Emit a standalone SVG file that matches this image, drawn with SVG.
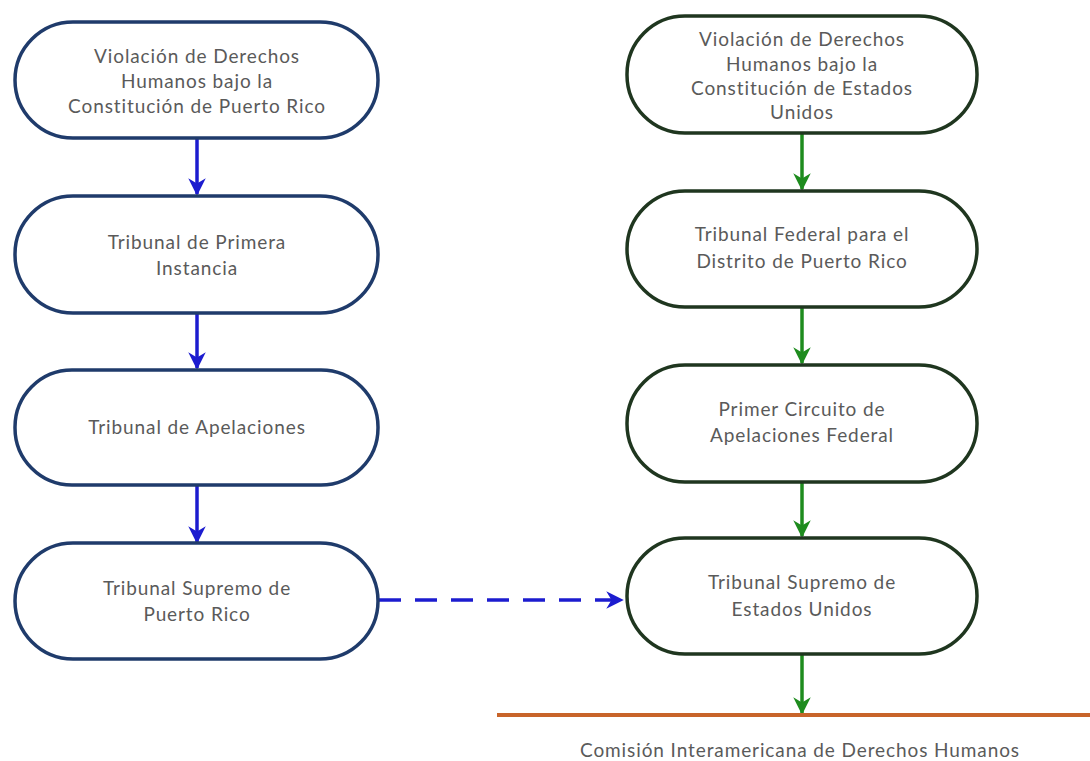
<svg xmlns="http://www.w3.org/2000/svg" width="1090" height="761" viewBox="0 0 1090 761">
<defs>
<style>
.nl{fill:#fff;stroke:#1f3b6b;stroke-width:3.5}
.nr{fill:#fff;stroke:#1f361f;stroke-width:3.5}
.t{font-family:Lato,"Noto Sans",sans-serif;font-size:19px;letter-spacing:0.9px;fill:#5a5a5a;text-anchor:middle}
.ab{stroke:#1c1ccf;stroke-width:3.5;fill:none}
.ag{stroke:#1e8c1e;stroke-width:3.5;fill:none}
</style>
<marker id="mb" viewBox="0 0 10 10" refX="9" refY="5" markerWidth="5" markerHeight="5" orient="auto" markerUnits="strokeWidth"><path d="M0,0 L10,5 L0,10 L3,5 Z" fill="#1c1ccf"/></marker>
<marker id="mg" viewBox="0 0 10 10" refX="9" refY="5" markerWidth="5" markerHeight="5" orient="auto" markerUnits="strokeWidth"><path d="M0,0 L10,5 L0,10 L3,5 Z" fill="#1e8c1e"/></marker>
</defs>
<rect width="1090" height="761" fill="#fff"/>
<g id="connectors">
<line class="ab" x1="197" y1="139" x2="197" y2="194" marker-end="url(#mb)"/>
<line class="ab" x1="197" y1="314" x2="197" y2="368" marker-end="url(#mb)"/>
<line class="ab" x1="197" y1="486" x2="197" y2="542" marker-end="url(#mb)"/>
<line class="ab" x1="379" y1="600" x2="622" y2="600" stroke-dasharray="22,14" marker-end="url(#mb)"/>
<line class="ag" x1="802" y1="134" x2="802" y2="189" marker-end="url(#mg)"/>
<line class="ag" x1="802" y1="308" x2="802" y2="363" marker-end="url(#mg)"/>
<line class="ag" x1="802" y1="482" x2="802" y2="536" marker-end="url(#mg)"/>
<line class="ag" x1="802" y1="655" x2="802" y2="713" marker-end="url(#mg)"/>
</g>
<g id="l1"><rect class="nl" x="15" y="22" width="363" height="116" rx="58"/>
<text class="t" x="197" y="63">Violación de Derechos</text><text class="t" x="197" y="88">Humanos bajo la</text><text class="t" x="197" y="113">Constitución de Puerto Rico</text></g>
<g id="l2"><rect class="nl" x="15" y="196" width="363" height="117" rx="58"/>
<text class="t" x="197" y="249">Tribunal de Primera</text><text class="t" x="197" y="275">Instancia</text></g>
<g id="l3"><rect class="nl" x="15" y="370" width="363" height="115" rx="57"/>
<text class="t" x="197" y="434">Tribunal de Apelaciones</text></g>
<g id="l4"><rect class="nl" x="15" y="543" width="363" height="116" rx="58"/>
<text class="t" x="197" y="595">Tribunal Supremo de</text><text class="t" x="197" y="621">Puerto Rico</text></g>
<g id="r1"><rect class="nr" x="627" y="16" width="350" height="117" rx="58"/>
<text class="t" x="802" y="46">Violación de Derechos</text><text class="t" x="802" y="71">Humanos bajo la</text><text class="t" x="802" y="95">Constitución de Estados</text><text class="t" x="802" y="119">Unidos</text></g>
<g id="r2"><rect class="nr" x="627" y="191" width="350" height="116" rx="58"/>
<text class="t" x="802" y="241">Tribunal Federal para el</text><text class="t" x="802" y="268">Distrito de Puerto Rico</text></g>
<g id="r3"><rect class="nr" x="627" y="365" width="350" height="117" rx="58"/>
<text class="t" x="802" y="416">Primer Circuito de</text><text class="t" x="802" y="442">Apelaciones Federal</text></g>
<g id="r4"><rect class="nr" x="627" y="538" width="350" height="116" rx="58"/>
<text class="t" x="802" y="589">Tribunal Supremo de</text><text class="t" x="802" y="616">Estados Unidos</text></g>
<g id="cidh">
<line x1="497" y1="715" x2="1090" y2="715" stroke="#c8642a" stroke-width="4"/>
<text class="t" x="800" y="757">Comisión Interamericana de Derechos Humanos</text>
</g>
</svg>
